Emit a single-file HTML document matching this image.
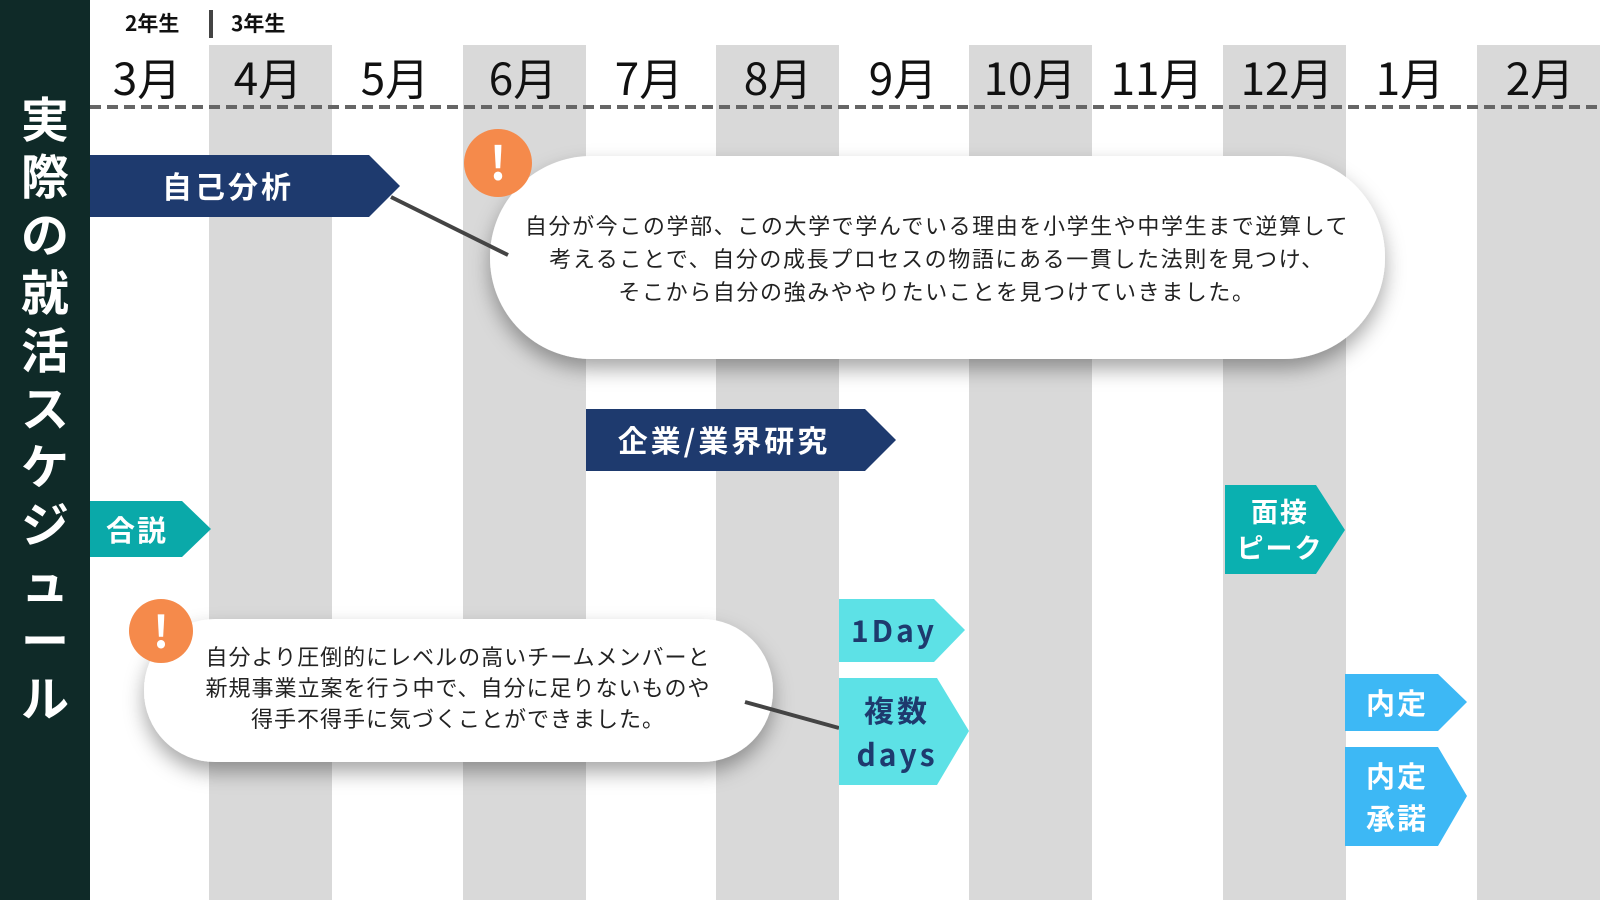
<!DOCTYPE html>
<html><head><meta charset="utf-8"><style>
html,body{margin:0;padding:0;width:1600px;height:900px;overflow:hidden;background:#fff}
svg{display:block}
text{font-family:"Noto Sans CJK JP","Liberation Sans",sans-serif}
</style></head><body>
<svg width="1600" height="900" viewBox="0 0 1600 900" xmlns="http://www.w3.org/2000/svg">
<defs>
<filter id="sh" x="-10%" y="-20%" width="120%" height="150%">
<feDropShadow dx="0" dy="10" stdDeviation="10" flood-color="#000" flood-opacity="0.35"/>
</filter>
</defs>
<rect x="0" y="0" width="1600" height="900" fill="#fff"/>
<g fill="#d9d9d9">
<rect x="209" y="45" width="123" height="855"/>
<rect x="463" y="45" width="123" height="855"/>
<rect x="716" y="45" width="123" height="855"/>
<rect x="969" y="45" width="123" height="855"/>
<rect x="1223" y="45" width="123" height="855"/>
<rect x="1477" y="45" width="123" height="855"/>
</g>
<rect x="0" y="0" width="90" height="900" fill="#0f2a28"/>
<g fill="#fff" font-size="48" font-weight="bold" text-anchor="middle">
<text x="45" y="137">実</text>
<text x="45" y="194">際</text>
<text x="45" y="252">の</text>
<text x="45" y="310">就</text>
<text x="45" y="368">活</text>
<text x="45" y="426">ス</text>
<text x="45" y="484">ケ</text>
<text x="45" y="542">ジ</text>
<text x="45" y="600">ュ</text>
<text x="45" y="658">ー</text>
<text x="45" y="716">ル</text>
</g>
<text x="125" y="31" font-size="21" font-weight="bold" fill="#111">2年生</text>
<rect x="209" y="10" width="4" height="28" fill="#444"/>
<text x="231" y="31" font-size="21" font-weight="bold" fill="#111">3年生</text>
<g font-size="44" fill="#111" text-anchor="middle">
<text x="147" y="95">3月</text>
<text x="268" y="95">4月</text>
<text x="395" y="95">5月</text>
<text x="523" y="95">6月</text>
<text x="649" y="95">7月</text>
<text x="778" y="95">8月</text>
<text x="903" y="95">9月</text>
<text x="1030" y="95">10月</text>
<text x="1157" y="95">11月</text>
<text x="1287" y="95">12月</text>
<text x="1410" y="95">1月</text>
<text x="1540" y="95">2月</text>
</g>
<line x1="90" y1="107" x2="1600" y2="107" stroke="#666" stroke-width="4" stroke-dasharray="11,6"/>
<polygon points="90,155 369,155 400,186 369,217 90,217" fill="#1e3a6e"/>
<text x="228" y="198" font-size="30" font-weight="bold" fill="#fff" text-anchor="middle" letter-spacing="3">自己分析</text>
<rect x="490" y="156" width="895" height="203" rx="101" fill="#fff" filter="url(#sh)"/>
<line x1="391" y1="197" x2="508" y2="255" stroke="#444" stroke-width="4"/>
<g font-size="22" fill="#222" text-anchor="middle" letter-spacing="1.6">
<text x="937" y="234">自分が今この学部、この大学で学んでいる理由を小学生や中学生まで逆算して</text>
<text x="937" y="267">考えることで、自分の成長プロセスの物語にある一貫した法則を見つけ、</text>
<text x="937" y="300">そこから自分の強みややりたいことを見つけていきました。</text>
</g>
<circle cx="498" cy="163" r="34" fill="#f58a4b"/>
<text x="498" y="180" font-size="46" font-weight="bold" fill="#fff" text-anchor="middle">!</text>
<polygon points="586,409 865,409 896,440 865,471 586,471" fill="#1e3a6e"/>
<text x="724" y="452" font-size="30" font-weight="bold" fill="#fff" text-anchor="middle" letter-spacing="3">企業/業界研究</text>
<polygon points="90,501 182,501 211,529 182,557 90,557" fill="#0aa9a9"/>
<text x="137" y="541" font-size="29" font-weight="bold" fill="#fff" text-anchor="middle" letter-spacing="2">合説</text>
<polygon points="1225,485 1316,485 1345,530 1316,574 1225,574" fill="#0ab0b0"/>
<text x="1280" y="522" font-size="27" font-weight="bold" fill="#fff" text-anchor="middle" letter-spacing="2">面接</text>
<text x="1280" y="558" font-size="27" font-weight="bold" fill="#fff" text-anchor="middle" letter-spacing="2">ピーク</text>
<rect x="144" y="619" width="629" height="143" rx="71" fill="#fff" filter="url(#sh)"/>
<line x1="745" y1="702" x2="839" y2="728" stroke="#444" stroke-width="4"/>
<g font-size="22" fill="#222" text-anchor="middle" letter-spacing="1">
<text x="458" y="665">自分より圧倒的にレベルの高いチームメンバーと</text>
<text x="458" y="696">新規事業立案を行う中で、自分に足りないものや</text>
<text x="458" y="727">得手不得手に気づくことができました。</text>
</g>
<circle cx="161" cy="631" r="32" fill="#f58a4b"/>
<text x="161" y="648" font-size="44" font-weight="bold" fill="#fff" text-anchor="middle">!</text>
<polygon points="839,599 934,599 965,630 934,662 839,662" fill="#5de1e6"/>
<text x="894" y="642" font-size="30" font-weight="bold" fill="#1e3a6e" text-anchor="middle" letter-spacing="3">1Day</text>
<polygon points="839,678 937,678 969,731 937,785 839,785" fill="#5de1e6"/>
<text x="897" y="722" font-size="30" font-weight="bold" fill="#1e3a6e" text-anchor="middle" letter-spacing="3">複数</text>
<text x="897" y="766" font-size="30" font-weight="bold" fill="#1e3a6e" text-anchor="middle" letter-spacing="3">days</text>
<polygon points="1345,674 1438,674 1467,702 1438,731 1345,731" fill="#3db8f5"/>
<text x="1397" y="714" font-size="29" font-weight="bold" fill="#fff" text-anchor="middle" letter-spacing="2">内定</text>
<polygon points="1345,747 1438,747 1467,796 1438,846 1345,846" fill="#3db8f5"/>
<text x="1397" y="787" font-size="29" font-weight="bold" fill="#fff" text-anchor="middle" letter-spacing="2">内定</text>
<text x="1397" y="829" font-size="29" font-weight="bold" fill="#fff" text-anchor="middle" letter-spacing="2">承諾</text>
</svg>
</body></html>
